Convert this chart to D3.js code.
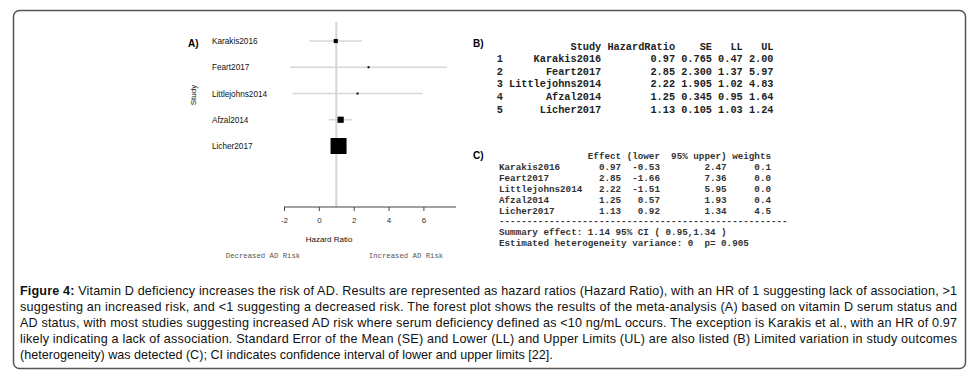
<!DOCTYPE html>
<html>
<head>
<meta charset="utf-8">
<script src="https://cdn.jsdelivr.net/npm/d3@7"></script>
<style>
  body { margin: 0; background: #fff; }
  svg { display: block; }
</style>
</head>
<body>
<div id="chart"></div>
<script>
// study data (table B)
var studies = ["Karakis2016", "Feart2017", "Littlejohns2014", "Afzal2014", "Licher2017"];
var hazardRatio = [0.97, 2.85, 2.22, 1.25, 1.13];
var se = [0.765, 2.300, 1.905, 0.345, 0.105];
var ll = [0.47, 1.37, 1.02, 0.95, 1.03];
var ul = [2.00, 5.97, 4.83, 1.64, 1.24];

// meta summary (table C)
var lower95 = [-0.53, -1.66, -1.51, 0.57, 0.92];
var upper95 = [2.47, 7.36, 5.95, 1.93, 1.34];
var weights = [0.1, 0.0, 0.0, 0.4, 4.5];
var summaryLine = "Summary effect: 1.14 95% CI ( 0.95,1.34 )";
var heteroLine = "Estimated heterogeneity variance: 0  p= 0.905";

var xTicks = [-2, 0, 2, 4, 6];

var captionLines = [
    "Vitamin D deficiency increases the risk of AD. Results are represented as hazard ratios (Hazard Ratio), with an HR of 1 suggesting lack of association, >1",
    "suggesting an increased risk, and <1 suggesting a decreased risk. The forest plot shows the results of the meta-analysis (A) based on vitamin D serum status and",
    "AD status, with most studies suggesting increased AD risk where serum deficiency defined as <10 ng/mL occurs. The exception is Karakis et al., with an HR of 0.97",
    "likely indicating a lack of association. Standard Error of the Mean (SE) and Lower (LL) and Upper Limits (UL) are also listed (B) Limited variation in study outcomes",
    "(heterogeneity) was detected (C); CI indicates confidence interval of lower and upper limits [22]."
];

function init()
{
    const width = 976;
    const height = 374;
    const sans = "'Liberation Sans', Arial, sans-serif";
    const mono = "'Liberation Mono', 'Courier New', monospace";

    var svg = d3.select("#chart")
        .append("svg")
        .attr("width", width)
        .attr("height", height);

    // frame
    svg.append("rect")
        .attr("x", 13.5).attr("y", 10.5)
        .attr("width", 952).attr("height", 358)
        .attr("rx", 6)
        .attr("fill", "#fff")
        .attr("stroke", "#555")
        .attr("stroke-width", 1.5);

    // ---- A) forest plot ----
    var x = d3.scaleLinear().domain([-2, 7.87]).range([284, 456]);
    var y = d3.scalePoint().domain(studies).range([41, 146]);
    var size = d3.scaleSqrt().domain([0, 4.5]).range([2, 16]);
    var axisY = 207;

    var rows = studies.map(function(s, i) {
        return { study: s, hr: hazardRatio[i], lo: lower95[i], hi: upper95[i], w: weights[i] };
    });

    var plot = svg.append("g");

    plot.append("line")
        .attr("x1", x(1)).attr("x2", x(1))
        .attr("y1", 22).attr("y2", axisY)
        .attr("stroke", "#d4d4d4")
        .attr("stroke-width", 2);

    plot.selectAll("line.ci")
        .data(rows)
        .enter()
        .append("line")
        .attr("class", "ci")
        .attr("x1", function(d) { return x(d.lo); })
        .attr("x2", function(d) { return x(d.hi); })
        .attr("y1", function(d) { return y(d.study); })
        .attr("y2", function(d) { return y(d.study); })
        .attr("stroke", "#d6d6d6")
        .attr("stroke-width", 1.5);

    plot.selectAll("rect.pt")
        .data(rows)
        .enter()
        .append("rect")
        .attr("class", "pt")
        .attr("x", function(d) { return x(d.hr) - size(d.w) / 2; })
        .attr("y", function(d) { return y(d.study) - size(d.w) / 2; })
        .attr("width", function(d) { return size(d.w); })
        .attr("height", function(d) { return size(d.w); })
        .attr("fill", "#000");

    plot.selectAll("text.study")
        .data(rows)
        .enter()
        .append("text")
        .attr("class", "study")
        .attr("x", 212)
        .attr("y", function(d) { return y(d.study) + 3; })
        .attr("font-family", sans)
        .attr("font-size", 8.2)
        .attr("fill", "#111")
        .text(function(d) { return d.study; });

    var xAxis = d3.axisBottom(x)
        .tickValues(xTicks)
        .tickSize(4)
        .tickFormat(function(d) { return String(d); });

    var ax = plot.append("g")
        .attr("transform", "translate(0," + axisY + ")")
        .call(xAxis);
    ax.select(".domain").attr("stroke", "#444").attr("d", "M" + x.range()[0] + ",0H" + x.range()[1]);
    ax.selectAll(".tick line").attr("stroke", "#444");
    ax.selectAll(".tick text")
        .attr("font-family", sans)
        .attr("font-size", 8)
        .attr("fill", "#333")
        .attr("y", 10);

    plot.append("text")
        .attr("x", 329).attr("y", 242)
        .attr("text-anchor", "middle")
        .attr("font-family", sans)
        .attr("font-size", 8)
        .attr("fill", "#111")
        .text("Hazard Ratio");

    plot.append("text")
        .attr("transform", "translate(196,95) rotate(-90)")
        .attr("text-anchor", "middle")
        .attr("font-family", sans)
        .attr("font-size", 8)
        .attr("fill", "#111")
        .text("Study");

    plot.append("text")
        .attr("x", 188).attr("y", 47)
        .attr("font-family", sans)
        .attr("font-size", 10)
        .attr("font-weight", "bold")
        .text("A)");

    plot.append("text")
        .attr("x", 263).attr("y", 258)
        .attr("text-anchor", "middle")
        .attr("font-family", mono)
        .attr("font-size", 7.3)
        .attr("fill", "#555")
        .text("Decreased AD Risk");

    plot.append("text")
        .attr("x", 406).attr("y", 258)
        .attr("text-anchor", "middle")
        .attr("font-family", mono)
        .attr("font-size", 7.3)
        .attr("fill", "#555")
        .text("Increased AD Risk");

    // ---- B) data frame print ----
    var bLines = ["  " + "Study".padStart(15) + " HazardRatio" + "    SE" + "   LL" + "   UL"];
    studies.forEach(function(s, i) {
        bLines.push(String(i + 1) + " " + s.padStart(15) + " " +
            hazardRatio[i].toFixed(2).padStart(11) + " " +
            se[i].toFixed(3).padStart(5) + " " +
            ll[i].toFixed(2).padStart(4) + " " +
            ul[i].toFixed(2).padStart(4));
    });

    svg.append("text")
        .attr("x", 473).attr("y", 47)
        .attr("font-family", sans)
        .attr("font-size", 10)
        .attr("font-weight", "bold")
        .text("B)");

    svg.selectAll("text.tabB")
        .data(bLines)
        .enter()
        .append("text")
        .attr("class", "tabB")
        .attr("x", 496.7)
        .attr("y", function(d, i) { return 49.5 + i * 12.6; })
        .attr("font-family", mono)
        .attr("font-size", 10.25)
        .attr("font-weight", "bold")
        .attr("fill", "#222")
        .style("white-space", "pre")
        .text(function(d) { return d; });

    // ---- C) meta summary print ----
    var cLines = [" ".repeat(16) + "Effect (lower  95% upper) weights"];
    studies.forEach(function(s, i) {
        cLines.push(s.padEnd(16) +
            hazardRatio[i].toFixed(2).padStart(6) +
            lower95[i].toFixed(2).padStart(7) +
            upper95[i].toFixed(2).padStart(12) +
            weights[i].toFixed(1).padStart(8));
    });
    cLines.push("-".repeat(52));
    cLines.push(summaryLine);
    cLines.push(heteroLine);

    svg.append("text")
        .attr("x", 473).attr("y", 159)
        .attr("font-family", sans)
        .attr("font-size", 10)
        .attr("font-weight", "bold")
        .text("C)");

    svg.selectAll("text.tabC")
        .data(cLines)
        .enter()
        .append("text")
        .attr("class", "tabC")
        .attr("x", 499)
        .attr("y", function(d, i) { return 159 + i * 10.9; })
        .attr("font-family", mono)
        .attr("font-size", 9.25)
        .attr("font-weight", "bold")
        .attr("fill", "#333")
        .style("white-space", "pre")
        .text(function(d) { return d; });

    // ---- caption ----
    var cap = svg.selectAll("text.cap")
        .data(captionLines)
        .enter()
        .append("text")
        .attr("class", "cap")
        .attr("x", 20)
        .attr("y", function(d, i) { return 295 + i * 16; })
        .attr("font-family", sans)
        .attr("font-size", 12.6)
        .attr("fill", "#111");

    cap.each(function(d, i) {
        var t = d3.select(this);
        if (i === 0) {
            t.append("tspan").attr("font-weight", "bold").text("Figure 4: ");
        }
        t.append("tspan").text(d);
        if (i < captionLines.length - 1) {
            t.attr("textLength", 937).attr("lengthAdjust", "spacing");
        }
    });
}

init();
</script>
</body>
</html>
